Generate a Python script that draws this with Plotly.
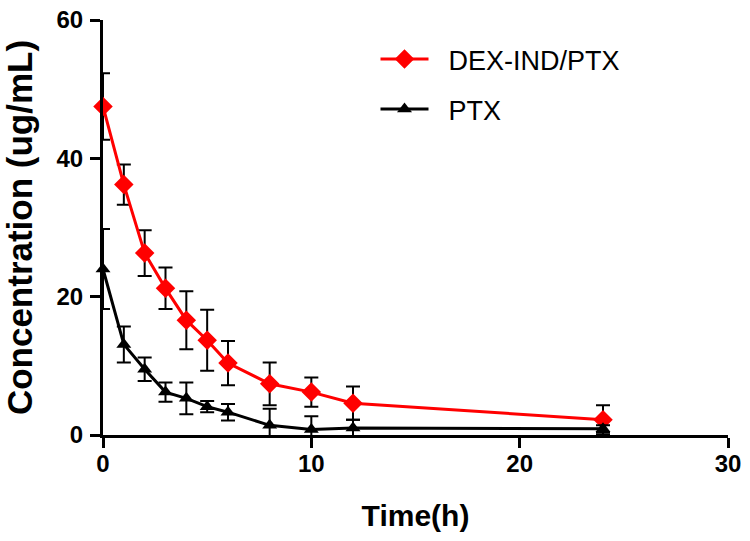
import plotly.graph_objects as go

time_h = [0, 1, 2, 3, 4, 5, 6, 8, 10, 12, 24]
dex_ind_ptx = [47.5, 36.2, 26.3, 21.2, 16.6, 13.7, 10.4, 7.4, 6.2, 4.6, 2.2]
dex_ind_ptx_err = [4.8, 2.9, 3.3, 3.0, 4.2, 4.4, 3.2, 3.1, 2.1, 2.4, 2.1]
ptx = [24.0, 13.1, 9.5, 6.2, 5.3, 4.1, 3.3, 1.4, 0.8, 1.0, 0.9]
ptx_err = [5.8, 2.6, 1.7, 1.4, 2.3, 0.8, 1.2, 2.4, 1.9, 1.2, 0.5]

x_ticks = [0, 10, 20, 30]
y_ticks = [0, 20, 40, 60]

FONT = "Liberation Sans, Arial, sans-serif"

fig = go.Figure()
fig.add_trace(go.Scatter(
    x=time_h, y=dex_ind_ptx, name="\u00a0\u00a0DEX-IND/PTX", mode="lines+markers",
    line=dict(color="#ff0000", width=3),
    marker=dict(symbol="diamond", size=15, color="#ff0000"),
    error_y=dict(type="data", array=dex_ind_ptx_err, visible=True,
                 color="black", thickness=2, width=7),
    cliponaxis=False, legendgroup="a",
))
fig.add_trace(go.Scatter(
    x=time_h, y=ptx, name="\u00a0\u00a0PTX", mode="lines+markers",
    line=dict(color="black", width=3),
    marker=dict(symbol="triangle-up", size=13, color="black"),
    error_y=dict(type="data", array=ptx_err, visible=True,
                 color="black", thickness=2, width=7),
    cliponaxis=False, legendgroup="b",
))

fig.update_layout(
    width=750, height=541,
    margin=dict(l=103, r=22, t=20, b=106),
    paper_bgcolor="white", plot_bgcolor="white",
    font=dict(family=FONT, color="black"),
    showlegend=True,
    legend=dict(x=0.436, y=0.964, xanchor="left", yanchor="top",
                font=dict(size=27, family=FONT, color="black"),
                itemwidth=48, tracegroupgap=12, bgcolor="rgba(0,0,0,0)"),
    xaxis=dict(range=[0, 30], tickvals=x_ticks, ticktext=[f"<b>{v}</b>" for v in x_ticks],
               showgrid=False, zeroline=False, automargin=False,
               showline=True, linecolor="black", linewidth=3,
               ticks="outside", ticklen=10, tickwidth=3, tickcolor="black",
               tickfont=dict(size=24, family=FONT),
               ticklabelstandoff=-5, ticklabeloverflow="allow",
               title=dict(text="<b>Time(h)</b>", font=dict(size=30, family=FONT), standoff=30)),
    yaxis=dict(range=[0, 60], tickvals=y_ticks, ticktext=[f"<b>{v}</b>" for v in y_ticks],
               showgrid=False, zeroline=False, automargin=False,
               showline=True, linecolor="black", linewidth=3,
               ticks="outside", ticklen=10, tickwidth=3, tickcolor="black",
               tickfont=dict(size=24, family=FONT),
               ticklabelstandoff=2, ticklabeloverflow="allow",
               title=dict(text="<b>Concentration (ug/mL)</b>", font=dict(size=35, family=FONT), standoff=17)),
)

fig.write_html("out.html", config={"displayModeBar": False},
               post_script="document.body.style.margin='0';")
